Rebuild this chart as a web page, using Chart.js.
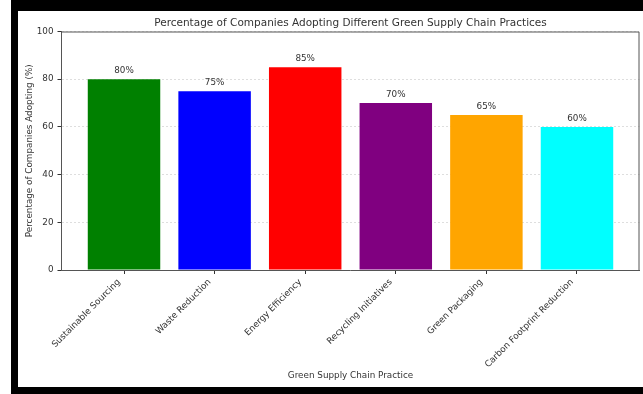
<!DOCTYPE html>
<html>
<head>
<meta charset="utf-8">
<script src="https://cdn.jsdelivr.net/npm/chart.js@4"></script>
<style>
  html, body { margin: 0; padding: 0; background: #fff; }
  #frame { position: absolute; left: 11px; top: 0; width: 632px; height: 394px; background: #000; }
  #paper { position: absolute; left: 18px; top: 11px; width: 625px; height: 376px; background: #fff; }
  #myChart { display: block; }
</style>
</head>
<body>
<div id="frame"></div>
<div id="paper">
  <canvas id="myChart" width="625" height="376"></canvas>
</div>
<script>
const practices = ["Sustainable Sourcing", "Waste Reduction", "Energy Efficiency",
  "Recycling Initiatives", "Green Packaging", "Carbon Footprint Reduction"];
const adoption = [80, 75, 85, 70, 65, 60];
const barColors = ["#008000", "#0000ff", "#ff0000", "#800080", "#ffa500", "#00ffff"];
const yTicks = [0, 20, 40, 60, 80, 100];

const ctx = document.getElementById("myChart");
const font = "'DejaVu Sans', sans-serif";
const ink = "#333";
const labelSize = 8.8;

// value text over each bar plus the top/right frame lines
const barText = {
  id: "barText",
  afterDatasetsDraw(chart) {
    const c = chart.ctx;
    const meta = chart.getDatasetMeta(0);
    c.save();
    c.font = labelSize + "px " + font;
    c.fillStyle = ink;
    c.textAlign = "center";
    c.textBaseline = "middle";
    meta.data.forEach((bar, i) => {
      c.fillText(adoption[i] + "%", bar.x, bar.y - 8.5);
    });
    const a = chart.chartArea;
    c.strokeStyle = "#555";
    c.lineWidth = 1;
    c.beginPath();
    c.moveTo(a.left, a.top + 0.5);
    c.lineTo(a.right - 0.5, a.top + 0.5);
    c.lineTo(a.right - 0.5, a.bottom);
    c.stroke();
    c.restore();
  }
};

new Chart(ctx, {
  type: "bar",
  data: {
    datasets: [{
      data: adoption.map((v, i) => ({ x: i, y: v })),
      backgroundColor: barColors,
      borderWidth: 0,
      categoryPercentage: 0.8,
      barPercentage: 1.0
    }]
  },
  options: {
    responsive: false,
    animation: false,
    layout: { padding: { left: 2.5, right: 3.5, top: 0, bottom: 0 } },
    plugins: {
      legend: { display: false },
      tooltip: { enabled: false },
      title: {
        display: true,
        fullSize: false,
        text: "Percentage of Companies Adopting Different Green Supply Chain Practices",
        color: ink,
        font: { family: font, size: 10.5, weight: "normal" },
        padding: { top: 5.7, bottom: 2.2 }
      }
    },
    scales: {
      x: {
        type: "linear",
        offset: false,
        min: -0.69,
        max: 5.69,
        afterBuildTicks: (scale) => { scale.ticks = practices.map((p, i) => ({ value: i })); },
        afterFit: (scale) => { scale.height = 117; },
        grid: { offset: false, drawOnChartArea: false, drawTicks: true, tickLength: 4, tickColor: ink },
        border: { color: "#555", width: 1 },
        ticks: {
          autoSkip: false,
          minRotation: 45,
          maxRotation: 45,
          padding: 3,
          labelOffset: -5,
          color: ink,
          font: { family: font, size: labelSize },
          callback: (value) => practices[value]
        },
        title: {
          display: true,
          text: "Green Supply Chain Practice",
          color: ink,
          font: { family: font, size: labelSize },
          padding: { top: 4, bottom: 6 }
        }
      },
      y: {
        min: 0,
        max: 100,
        afterBuildTicks: (scale) => { scale.ticks = yTicks.map(v => ({ value: v })); },
        afterFit: (scale) => { scale.width = 41; },
        grid: {
          color: "rgba(0,0,0,0.13)",
          tickLength: 4,
          tickColor: ink,
          tickBorderDash: []
        },
        border: { color: "#555", width: 1, dash: [2, 2] },
        ticks: {
          padding: 4,
          color: ink,
          font: { family: font, size: labelSize }
        },
        title: {
          display: true,
          text: "Percentage of Companies Adopting (%)",
          color: ink,
          font: { family: font, size: labelSize },
          padding: { top: 4, bottom: 4 }
        }
      }
    }
  },
  plugins: [barText]
});
</script>
</body>
</html>
